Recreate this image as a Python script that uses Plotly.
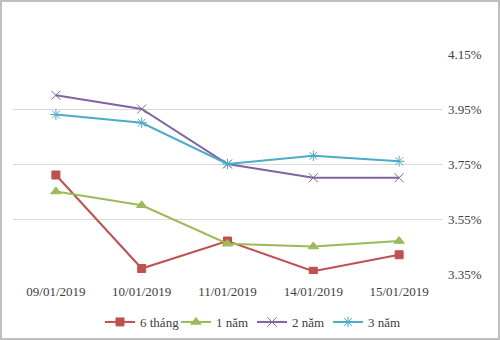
import plotly.graph_objects as go

dates = ["09/01/2019", "10/01/2019", "11/01/2019", "14/01/2019", "15/01/2019"]
s6 = [3.71, 3.37, 3.47, 3.36, 3.42]
s1 = [3.65, 3.60, 3.46, 3.45, 3.47]
s2 = [4.00, 3.95, 3.75, 3.70, 3.70]
s3 = [3.93, 3.90, 3.75, 3.78, 3.76]
yticks = [3.35, 3.55, 3.75, 3.95, 4.15]

series = [
    ("6 tháng", s6, "#C0504D", "square", 8),
    ("1 năm", s1, "#9BBB59", "triangle-up", 9),
    ("2 năm", s2, "#8064A2", "x-thin-open", 9),
    ("3 năm", s3, "#4BACC6", "asterisk-open", 9),
]

FONT = "Times New Roman, Liberation Serif, serif"

fig = go.Figure()
for name, vals, color, sym, size in series:
    fig.add_trace(go.Scatter(
        x=dates, y=vals, name=name, mode="lines+markers",
        line=dict(color=color, width=2),
        marker=dict(symbol=sym, size=size, color=color, line=dict(color=color, width=1)),
    ))

W, H = 500, 340
L, R, T, B = 13, 58, 54, 66
pw, ph = W - L - R, H - T - B

fig.update_layout(
    width=W, height=H,
    margin=dict(l=L, r=R, t=T, b=B, autoexpand=False),
    paper_bgcolor="white", plot_bgcolor="white",
    font=dict(family=FONT, size=13, color="#404040"),
    showlegend=True,
    legend=dict(orientation="h", x=(252 - L) / pw, xanchor="center",
                y=-48 / ph, yanchor="middle",
                font=dict(family=FONT, size=13, color="#404040"),
                itemwidth=30, entrywidth=31, entrywidthmode="pixels",
                tracegroupgap=0),
    xaxis=dict(type="category", showgrid=False, showline=False, ticks="",
               tickfont=dict(family=FONT, size=13, color="#404040"),
               range=[-0.5, 4.5], automargin=False, ticklabelstandoff=8),
    yaxis=dict(side="right", range=[3.35, 4.15], tickvals=yticks,
               ticktext=[f"{v:.2f}%" for v in yticks],
               showgrid=True, gridcolor="#D9D9D9", gridwidth=1,
               zeroline=False, showline=False, ticks="", automargin=False,
               ticklabelstandoff=5,
               tickfont=dict(family=FONT, size=13, color="#404040")),
)
fig.add_shape(type="rect", xref="paper", yref="paper",
              x0=-(L - 1) / pw, x1=1 + (R - 1) / pw,
              y0=-(B - 1) / ph, y1=1 + (T - 1) / ph,
              line=dict(color="#BFBFBF", width=2), layer="below")
fig.write_html("out.html")
